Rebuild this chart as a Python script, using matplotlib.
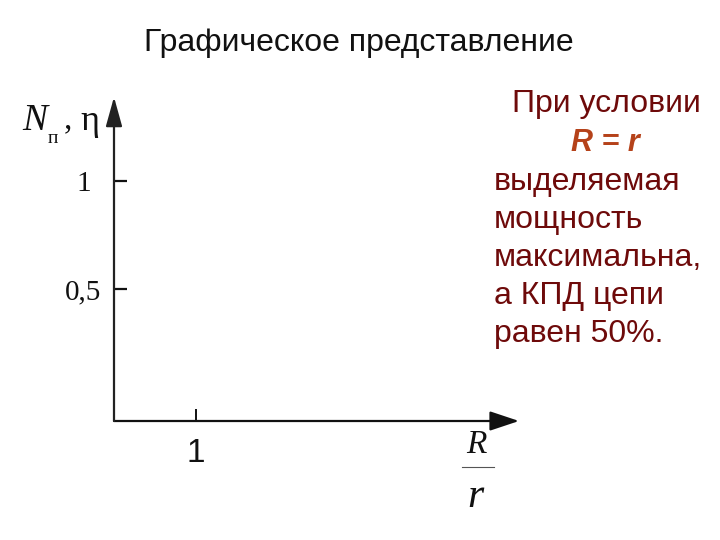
import matplotlib
matplotlib.use("Agg")
import matplotlib.pyplot as plt
from matplotlib.lines import Line2D

title = "Графическое представление"
x_ticks = [1]
x_tick_labels = ["1"]
y_ticks = [0.5, 1]
y_tick_labels = ["0,5", "1"]
note_lines = ["выделяемая", "мощность", "максимальна,", "а КПД цепи", "равен 50%."]

W, H = 720, 540
fig = plt.figure(figsize=(7.2, 5.4), dpi=100)

def fx(px):
    return px / W

def fy(py):
    return 1 - py / H

ox, oy = 114, 421
tipx, tipy = 519, 97
ax = fig.add_axes([fx(ox), fy(oy), fx(tipx - ox), (oy - tipy) / H])
ax.set_xlim(0, 4.93)
ax.set_ylim(0, 1.35)
for s in ax.spines.values():
    s.set_visible(False)
ax.set_facecolor('none')

# axes with arrows
ax.annotate('', xy=(1, 0), xytext=(0, 0), xycoords='axes fraction',
            arrowprops=dict(arrowstyle='-|>,head_length=1.8,head_width=0.6',
                            lw=1.6, color='#111111', shrinkA=0, shrinkB=0))
ax.annotate('', xy=(0, 1), xytext=(0, 0), xycoords='axes fraction',
            arrowprops=dict(arrowstyle='-|>,head_length=1.8,head_width=0.5',
                            lw=1.6, color='#222222', shrinkA=0, shrinkB=0))

# y ticks (visual positions as in the picture)
ypos = [0.55 if v == 0.5 else v for v in y_ticks]
ax.set_yticks(ypos)
ax.set_yticklabels(y_tick_labels, family='Liberation Serif', fontsize=21, ha='center')
ax.tick_params(axis='y', direction='in', length=9, width=1.6, pad=22, colors='#111111')
ax.set_xticks(x_ticks)
ax.set_xticklabels(x_tick_labels, family='Liberation Sans', fontsize=24)
ax.tick_params(axis='x', direction='in', length=9, width=1.4, pad=12, colors='#111111')

# y label: N_п, η
lab = '#111111'
fig.text(fx(22), fy(130), 'N', family='Liberation Serif', style='italic',
         fontsize=27, ha='left', va='baseline', color=lab)
fig.text(fx(48), fy(143), 'п', family='Liberation Serif',
         fontsize=14, ha='left', va='baseline', color=lab)
fig.text(fx(64), fy(128), ',', family='Liberation Serif',
         fontsize=24, ha='left', va='baseline', color=lab)
fig.text(fx(80), fy(130), 'η', family='Liberation Serif',
         fontsize=26, ha='left', va='baseline', color=lab)

# x label R/r
fig.text(fx(476), fy(453), 'R', family='Liberation Serif', style='italic',
         fontsize=24, ha='center', va='baseline', color=lab)
fig.text(fx(475), fy(507), 'r', family='Liberation Serif', style='italic',
         fontsize=30, ha='center', va='baseline', color=lab)
fig.add_artist(Line2D([fx(462), fx(494)], [fy(467), fy(467)], lw=0.8, color='#555555'))

# title
fig.text(fx(359), fy(43), title, family='Liberation Sans', fontsize=23,
         ha='center', va='center', color='#111111')

# note
red = '#6e0a0a'
fig.text(fx(606), fy(104), "При условии", family='Liberation Sans', fontsize=23,
         ha='center', va='center', color=red)
fig.text(fx(605), fy(143), "R = r", family='Liberation Sans', fontsize=22,
         weight='bold', style='italic', ha='center', va='center', color='#b5421a')
y0 = 182
for i, line in enumerate(note_lines):
    fig.text(fx(494), fy(y0 + i * 38), line, family='Liberation Sans', fontsize=23,
             ha='left', va='center', color=red)

fig.savefig('out.png', dpi=100)
